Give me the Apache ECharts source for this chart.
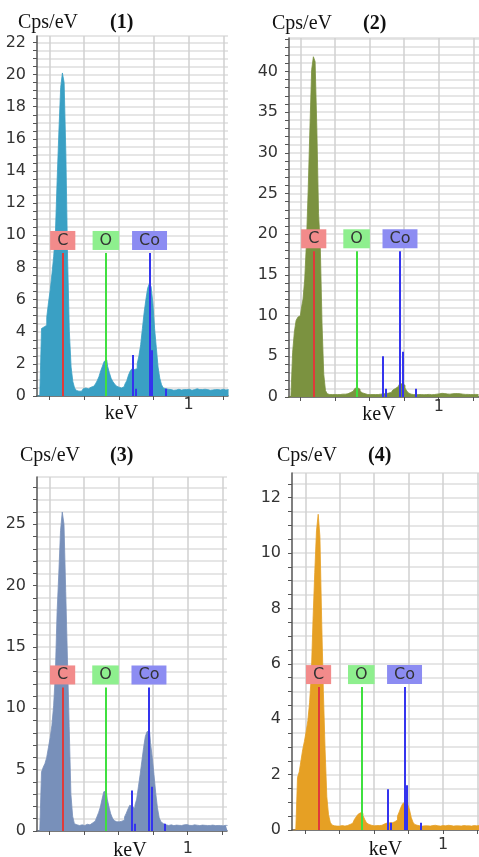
<!DOCTYPE html>
<html><head><meta charset="utf-8">
<script src="https://cdn.jsdelivr.net/npm/echarts@6/dist/echarts.min.js"></script>
<style>html,body{margin:0;padding:0;background:#fff}#c{width:479px;height:857px}</style>
</head><body><div id="c"></div>
<script>
// Energy channels (keV)
const energy = [0.13,0.14,0.15,0.16,0.17,0.18,0.19,0.20,0.21,0.22,0.23,0.24,0.25,0.26,0.27,0.28,0.29,0.30,0.31,0.32,0.33,0.34,0.35,0.36,0.37,0.38,0.39,0.40,0.41,0.42,0.43,0.44,0.45,0.46,0.47,0.48,0.49,0.50,0.51,0.52,0.53,0.54,0.55,0.56,0.57,0.58,0.59,0.60,0.61,0.62,0.63,0.64,0.65,0.66,0.67,0.68,0.69,0.70,0.71,0.72,0.73,0.74,0.75,0.76,0.77,0.78,0.79,0.80,0.81,0.82,0.83,0.84,0.85,0.86,0.87,0.88,0.89,0.90,0.91,0.92,0.93,0.94,0.95,0.96,0.97,0.98,0.99,1.00,1.01,1.02,1.03,1.04,1.05,1.06,1.07,1.08,1.09,1.10,1.11,1.12,1.13,1.14,1.15,1.16,1.17,1.18,1.19,1.20,1.21,1.22,1.23];

// Spectrum (1) Cps/eV
const cps1 = [0,0,0,4.2,4.3,4.4,4.9,5.8,6.6,7.6,8.7,10.2,13.5,16.5,19.2,20.1,19.5,15.0,8.5,4.0,1.8,0.9,0.5,0.35,0.3,0.3,0.4,0.45,0.5,0.45,0.55,0.55,0.6,0.65,0.75,0.95,1.2,1.55,1.85,2.15,2.25,1.85,1.45,1.1,0.9,0.75,0.62,0.55,0.5,0.5,0.58,0.75,0.95,1.3,1.55,1.7,1.65,1.7,2.0,2.5,3.2,4.2,5.2,6.0,6.7,7.0,6.8,5.8,4.2,3.0,1.8,1.1,0.7,0.5,0.45,
0.42,0.38,0.4,0.36,0.4,0.38,0.42,0.4,0.37,0.4,0.38,0.4,0.42,0.38,0.36,0.4,0.42,0.45,0.4,0.38,0.4,0.42,0.38,0.4,0.36,0.4,0.38,0.4,0.42,0.4,0.38,0.4,0.42,0.38,0.4,0.4];
// Spectrum (2)
const cps2 = [0,0,0,5.5,8.0,9.4,9.8,10.0,10.8,12.0,14.5,19.0,25.5,33.0,40.2,41.8,41.2,33.0,22.5,18.5,9.0,2.8,0.8,0.4,0.3,0.3,0.25,0.3,0.3,0.35,0.3,0.35,0.3,0.35,0.4,0.45,0.55,0.7,0.85,1.05,1.15,0.95,0.7,0.5,0.4,0.33,0.3,0.3,0.28,0.3,0.3,0.32,0.3,0.35,0.38,0.4,0.4,0.42,0.48,0.55,0.65,0.85,1.05,1.25,1.45,1.65,1.6,1.45,1.1,0.75,0.5,0.35,0.3,
0.3,0.28,0.3,0.32,0.3,0.28,0.3,0.3,0.32,0.3,0.28,0.3,0.32,0.35,0.4,0.42,0.45,0.42,0.4,0.38,0.35,0.38,0.4,0.42,0.45,0.42,0.4,0.38,0.35,0.32,0.3,0.32,0.3,0.28,0.3,0.32,0.3,0.3];
// Spectrum (3)
const cps3 = [0,0,0,4.8,5.2,5.5,6.0,6.8,7.6,8.6,10.2,12.8,17.8,21.0,24.5,26.0,25.0,19.5,14.0,8.5,3.0,1.2,0.6,0.5,0.45,0.45,0.5,0.45,0.5,0.55,0.5,0.6,0.65,0.8,0.95,1.15,1.5,1.95,2.6,3.2,3.25,2.6,1.95,1.4,1.05,0.85,0.75,0.75,0.75,0.8,0.9,1.15,1.45,1.8,2.1,2.0,1.85,2.1,2.6,3.6,4.6,5.7,6.8,7.7,8.1,8.1,7.2,6.0,4.6,3.1,1.9,1.1,0.75,0.6,0.5,
0.48,0.45,0.5,0.46,0.44,0.48,0.5,0.46,0.45,0.48,0.5,0.52,0.48,0.46,0.45,0.48,0.5,0.47,0.45,0.44,0.48,0.5,0.46,0.45,0.42,0.45,0.48,0.46,0.44,0.45,0.48,0.45,0.42,0.44,0.46,0.45];
// Spectrum (4)
const cps4 = [0,0,0,1.9,2.1,2.5,2.9,3.2,3.55,3.95,4.6,5.6,7.6,9.3,10.8,11.4,10.6,7.6,5.0,2.9,1.2,0.55,0.28,0.18,0.15,0.14,0.15,0.14,0.16,0.15,0.14,0.16,0.17,0.2,0.24,0.3,0.38,0.47,0.56,0.62,0.6,0.52,0.38,0.26,0.2,0.17,0.16,0.15,0.16,0.15,0.16,0.17,0.18,0.22,0.25,0.27,0.26,0.26,0.28,0.3,0.36,0.5,0.65,0.82,0.95,1.02,1.0,0.92,0.72,0.45,0.28,0.2,0.17,
0.15,0.16,0.14,0.15,0.16,0.15,0.14,0.15,0.16,0.17,0.16,0.15,0.14,0.15,0.16,0.15,0.16,0.17,0.16,0.15,0.14,0.15,0.16,0.15,0.14,0.15,0.16,0.15,0.16,0.15,0.14,0.15,0.16,0.15,0.15,0.16,0.15,0.15];

// Element markers
const elemNames = ['C', 'O', 'Co'];
const elemEnergy = [0.277, 0.525, 0.776];
const elemLineHeight = [8.9, 17.9, 11.7, 5.16];           // per panel
const coMinorEnergy = [0.678, 0.694, 0.791, 0.870];
const coMinorHeight = [[2.55,0.45,2.85,0.45],[5.0,1.0,5.55,1.0],[3.3,0.6,3.6,0.6],[1.47,0.26,1.62,0.26]];

const panelTitles = ['(1)', '(2)', '(3)', '(4)'];
const yMajor = [2, 5, 5, 2];      // labelled step
const yMinor = [0.5, 1, 1, 0.5];  // grid / tick step

const elemLineColor = ['#e03a3a', '#3fe03f', '#3434ee'];
const elemBoxColor = ['#f28b8b', '#8eef8e', '#8c8cf2'];
const spectra = [cps1, cps2, cps3, cps4];
const fills = ['#3aa0c4', '#7b9240', '#7890ba', '#e6a024'];

const layout = [
  {grid:{left:37, top:36, width:191, height:360}, xMin:0.129, xMax:1.227, yMax:22.4, labelMargin:1, nameGap:8, namePad:22, tx:18, ty:13, px:110},
  {grid:{left:289, top:38, width:190, height:359}, xMin:0.134, xMax:1.233, yMax:44.1, labelMargin:2, nameGap:8, namePad:10, tx:272, ty:14, px:363},
  {grid:{left:37, top:477, width:190, height:354}, xMin:0.129, xMax:1.227, yMax:28.85, labelMargin:10, nameGap:10, namePad:4, tx:20, ty:446, px:110},
  {grid:{left:292, top:473, width:187, height:357}, xMin:0.123, xMax:1.208, yMax:12.89, labelMargin:7, nameGap:10, namePad:0, tx:277, ty:446, px:368}
];

const gridColor = '#dedede';
const vGridColor = '#d0d0d0';
const axisColor = '#555';
const labelFont = 'DejaVu Sans';
const serif = 'Liberation Serif';

const option = {animation:false, grid:[], xAxis:[], yAxis:[], series:[], title:[]};

layout.forEach((L, i) => {
  option.grid.push(Object.assign({containLabel:false, outerBoundsMode:'none'}, L.grid));
  option.xAxis.push({
    gridIndex:i, type:'value', min:L.xMin, max:L.xMax, splitNumber:5,
    name:'keV', nameLocation:'middle', nameGap:L.nameGap, nameMoveOverlap:false,
    nameTextStyle:{fontFamily:serif, fontSize:20, color:'#111', padding:[0, L.namePad, 0, 0]},
    axisLine:{show:true, onZero:false, lineStyle:{color:axisColor, width:1.5}},
    axisTick:{show:true, length:4, lineStyle:{color:axisColor}},
    axisLabel:{show:true, showMinLabel:false, showMaxLabel:false, margin:L.labelMargin,
      formatter:(v)=> (Math.abs(v - 1) < 1e-6 ? '1' : ''),
      fontFamily:labelFont, fontSize:16, color:'#333'},
    splitLine:{show:true, showMinLine:false, showMaxLine:false, lineStyle:{color:vGridColor, width:1.5}}
  });
  const maj = yMajor[i];
  option.yAxis.push({
    gridIndex:i, type:'value', min:0, max:L.yMax, interval:yMinor[i],
    axisLine:{show:true, lineStyle:{color:axisColor, width:1.5}},
    axisTick:{show:true, length:4, lineStyle:{color:axisColor}},
    splitLine:{show:true, lineStyle:{color:gridColor, width:1.5}},
    axisLabel:{showMaxLabel:false, margin:11, fontFamily:labelFont, fontSize:16, color:'#333',
      formatter:(v)=> (Math.abs(v/maj - Math.round(v/maj)) < 1e-6 ? String(Math.round(v)) : '')}
  });

  const mk = [];
  elemNames.forEach((n, k) => {
    mk.push([
      {coord:[elemEnergy[k], 0], lineStyle:{color:elemLineColor[k], width:2, type:'solid'},
       label:{show:true, position:'end', distance:3, formatter:n, backgroundColor:elemBoxColor[k],
              padding:[1,7], lineHeight:17, fontFamily:labelFont, fontSize:16, color:'#333'}},
      {coord:[elemEnergy[k], elemLineHeight[i]]}
    ]);
  });
  coMinorEnergy.forEach((e, k) => {
    mk.push([
      {coord:[e, 0], lineStyle:{color:elemLineColor[2], width:2, type:'solid'}, label:{show:false}},
      {coord:[e, coMinorHeight[i][k]]}
    ]);
  });

  option.series.push({
    type:'line', xAxisIndex:i, yAxisIndex:i, step:'middle', symbol:'none',
    data: energy.map((e, k) => [e, spectra[i][k]]),
    lineStyle:{color:fills[i], width:0.8}, itemStyle:{color:fills[i]},
    areaStyle:{color:fills[i], opacity:1},
    markLine:{silent:true, symbol:['none','none'], animation:false, data:mk}
  });

  option.title.push({text:'Cps/eV', left:L.tx, top:L.ty, padding:0,
    textStyle:{fontFamily:serif, fontSize:20, fontWeight:'normal', color:'#111'}});
  option.title.push({text:panelTitles[i], left:L.px, top:L.ty, padding:0,
    textStyle:{fontFamily:serif, fontSize:20, fontWeight:'bold', color:'#111'}});
});

const chart = echarts.init(document.getElementById('c'), null, {renderer:'canvas'});
chart.setOption(option);
</script>
</body></html>
